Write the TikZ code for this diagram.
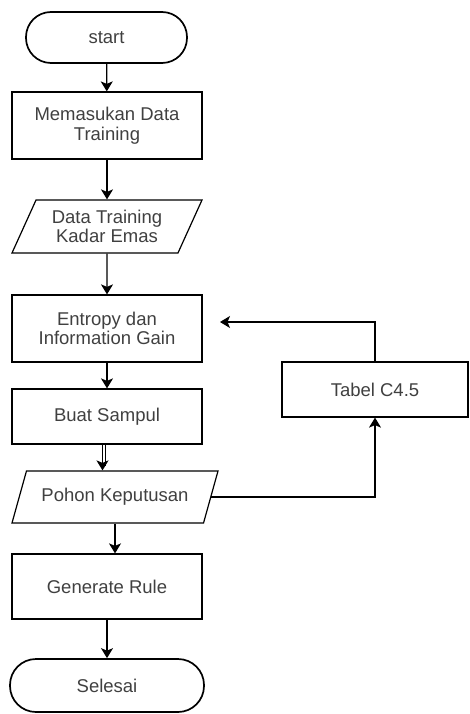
\documentclass[tikz,border=0pt]{standalone}
\usepackage{fontspec}
\setmainfont{Liberation Sans}
\usepackage{xcolor}
\definecolor{fctext}{RGB}{64,64,64}
\usetikzlibrary{arrows.meta,shapes.geometric}

\begin{document}
\begin{tikzpicture}[x=1pt, y=-1pt,
  every node/.style={font=\fontsize{18.5}{19.5}\selectfont, text=fctext, align=center, inner sep=0pt},
  term/.style={draw, line width=1.7pt, rounded corners=25pt, minimum width=161pt, minimum height=51pt},
  proc/.style={draw, line width=1.2pt, minimum width=190pt, minimum height=67pt},
  io/.style={draw, line width=1.2pt, trapezium, trapezium stretches body,
    trapezium left angle=54, trapezium right angle=126, minimum width=190pt, minimum height=53pt},
  arr/.style={line width=1.2pt, -{Stealth[length=10pt, width=12pt, inset=2.5pt]}}]
  \useasboundingbox (0,0) rectangle (470,714);
  % Terminals
  \node[term] (start) at (106.5,37.5) {start};
  \node[term, minimum width=194pt, minimum height=53pt, rounded corners=26pt] (selesai) at (107,685.5) {Selesai};
  % Main column
  \node[proc] (masuk) at (107,125.5) {Memasukan Data\\Training};
  \node[io] (data) at (107,226.5) {Data Training\\Kadar Emas};
  \node[proc] (entropy) at (107,328.5) {Entropy dan\\Information Gain};
  \node[proc, minimum height=55pt] (sampul) at (107,416.5) {Buat Sampul};
  \node[io, trapezium left angle=50, trapezium right angle=130, minimum width=206pt, minimum height=52pt] (pohon) at (115,497) {Pohon Keputusan};
  \node[proc, minimum height=65pt] (rule) at (107,586.5) {Generate Rule};
  % Side box
  \node[proc, minimum width=186pt, minimum height=55pt] (tabel) at (375,389.5) {Tabel C4.5};
  \coordinate (balik) at (220,322);
  % Arrows
  \draw[arr] (start) -- (masuk);
  \draw[arr] (masuk) -- (data);
  \draw[arr] (data) -- (entropy);
  \draw[arr] (entropy) -- (sampul);
  \draw[arr] ([xshift=-4.5pt]sampul.south) -- ([xshift=-4.5pt]sampul.south |- pohon.north);
  \draw[line width=1pt] ([xshift=-1.5pt]sampul.south) -- ([xshift=-1.5pt,yshift=4pt]sampul.south |- pohon.north);
  \draw[arr] (pohon.south) -- (pohon.south |- rule.north);
  \draw[arr] (rule) -- (selesai);
  \draw[arr] (pohon.east) -| (tabel.south);
  \draw[arr] (tabel.north) |- (balik);
\end{tikzpicture}
\end{document}
